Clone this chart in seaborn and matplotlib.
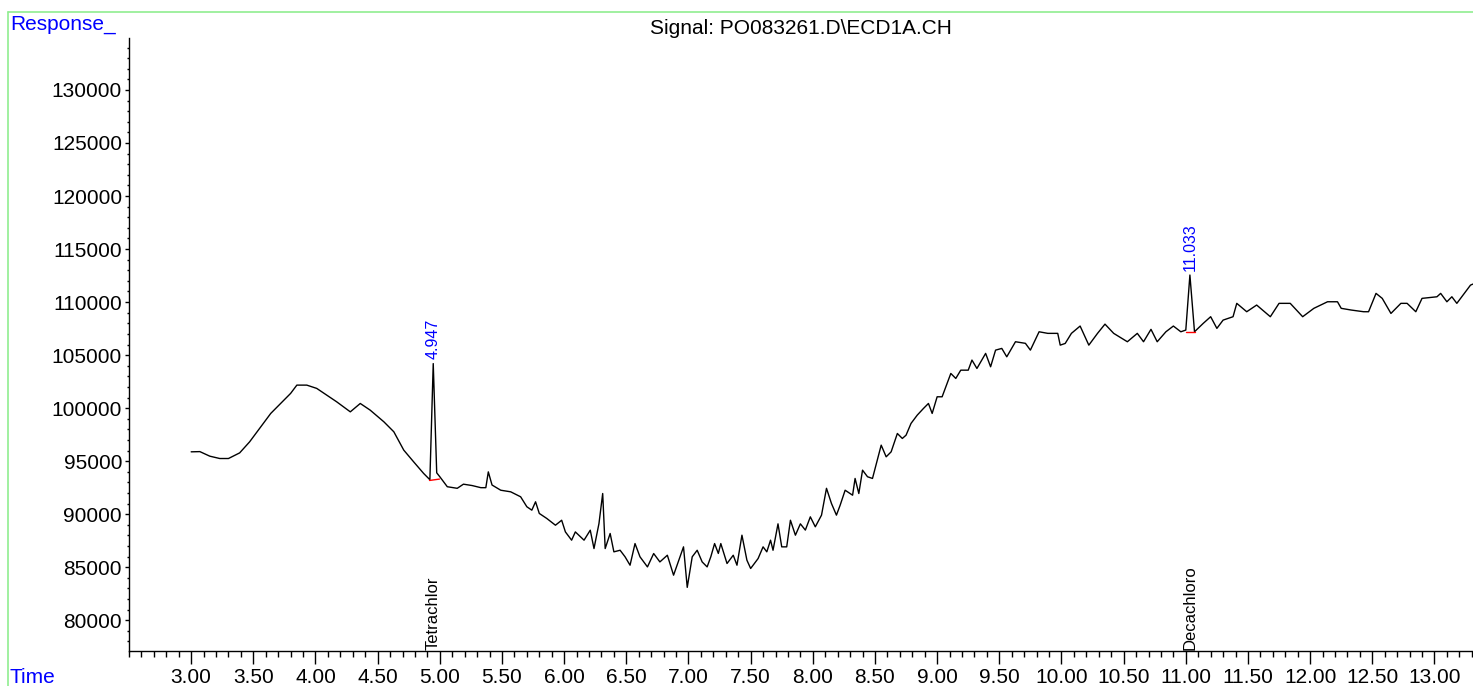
import numpy as np
import pandas as pd
import matplotlib
matplotlib.use("Agg")
import matplotlib.pyplot as plt
import seaborn as sns
from matplotlib.ticker import MultipleLocator, FormatStrFormatter

# Chromatogram trace (time in min, detector response)
time = [
    3.00, 3.07, 3.15, 3.23, 3.30, 3.39, 3.47, 3.56, 3.64, 3.72,
    3.80, 3.85, 3.93, 4.01, 4.09, 4.17, 4.28, 4.36, 4.44, 4.55,
    4.63, 4.71, 4.79, 4.87, 4.92, 4.947, 4.975, 5.00, 5.06, 5.14,
    5.19, 5.26, 5.33, 5.37, 5.39, 5.42, 5.49, 5.57, 5.65, 5.70,
    5.74, 5.77, 5.80, 5.86, 5.93, 5.98, 6.01, 6.06, 6.09, 6.16,
    6.21, 6.24, 6.28, 6.31, 6.33, 6.37, 6.40, 6.45, 6.49, 6.53,
    6.57, 6.61, 6.67, 6.72, 6.77, 6.83, 6.88, 6.96, 6.99, 7.03,
    7.07, 7.11, 7.15, 7.18, 7.21, 7.24, 7.26, 7.31, 7.36, 7.39,
    7.43, 7.47, 7.50, 7.56, 7.60, 7.63, 7.66, 7.68, 7.72, 7.75,
    7.79, 7.82, 7.86, 7.90, 7.94, 7.98, 8.02, 8.07, 8.11, 8.15,
    8.19, 8.22, 8.26, 8.32, 8.34, 8.37, 8.40, 8.44, 8.48, 8.55,
    8.59, 8.63, 8.68, 8.72, 8.75, 8.79, 8.84, 8.89, 8.93, 8.96,
    9.00, 9.04, 9.07, 9.11, 9.15, 9.19, 9.25, 9.28, 9.32, 9.39,
    9.43, 9.47, 9.52, 9.56, 9.63, 9.71, 9.75, 9.82, 9.89, 9.97,
    9.99, 10.03, 10.08, 10.15, 10.22, 10.29, 10.35, 10.42, 10.53, 10.61,
    10.66, 10.72, 10.77, 10.84, 10.90, 10.96, 11.00, 11.033, 11.07, 11.14,
    11.20, 11.25, 11.30, 11.38, 11.41, 11.49, 11.57, 11.68, 11.75, 11.84,
    11.94, 12.03, 12.14, 12.22, 12.25, 12.33, 12.43, 12.47, 12.53, 12.58,
    12.65, 12.73, 12.78, 12.85, 12.90, 13.02, 13.05, 13.10, 13.14, 13.18,
    13.24, 13.29, 13.31,
]
response = [
    95880, 95900, 95470, 95250, 95250, 95780, 96820, 98230, 99500, 100440,
    101390, 102170, 102170, 101860, 101230, 100600, 99650, 100440, 99810, 98710,
    97770, 96040, 94930, 93840, 93250, 104200, 93900, 93530, 92590, 92440,
    92830, 92700, 92500, 92500, 93990, 92750, 92260, 92110, 91640, 90700,
    90380, 91170, 90070, 89600, 88960, 89430, 88330, 87550, 88330, 87550,
    88490, 86760, 89120, 91950, 86760, 88180, 86450, 86600, 85980, 85190,
    87230, 85980, 85030, 86290, 85500, 86130, 84250, 86920, 83100, 85980,
    86600, 85500, 85030, 86000, 87230, 86300, 87230, 85350, 86130, 85190,
    88020, 85660, 84880, 85820, 86920, 86450, 87550, 86600, 89090, 86920,
    86920, 89430, 88020, 89090, 88500, 89750, 88810, 89910, 92440, 91010,
    89910, 90850, 92260, 91790, 93370, 91950, 94150, 93530, 93370, 96510,
    95410, 95880, 97610, 97140, 97450, 98560, 99340, 99970, 100440, 99500,
    101070, 101070, 102010, 103270, 102800, 103580, 103580, 104530, 103740, 105160,
    103900, 105470, 105630, 104840, 106260, 106110, 105470, 107200, 107050, 107050,
    105940, 106100, 107050, 107740, 105940, 107050, 107920, 107050, 106260, 107050,
    106260, 107430, 106260, 107200, 107740, 107200, 107360, 112550, 107200, 107990,
    108620, 107520, 108300, 108620, 109880, 109090, 109720, 108620, 109880, 109880,
    108620, 109410, 110030, 110030, 109410, 109250, 109090, 109090, 110820, 110350,
    108930, 109880, 109880, 109090, 110350, 110500, 110820, 110030, 110500, 109880,
    110820, 111600, 111700,
]

# integrated peaks
peak_rt = [4.947, 11.033]
peak_top = [104200, 112550]
peak_name = ["Tetrachlor", "Decachloro"]
base_start = [4.917, 11.00]
base_end = [4.997, 11.07]
base_start_y = [93180, 107170]
base_end_y = [93310, 107170]

df = pd.DataFrame({"Time": time, "Response": response})

sns.set_style("ticks")
plt.rcParams["font.family"] = ["Liberation Sans", "DejaVu Sans"]

fig = plt.figure(figsize=(14.73, 6.86), dpi=100)
ax = fig.add_axes([129 / 1473, 35 / 686, 1 - 129 / 1473, 613 / 686])

sns.lineplot(
    data=df,
    x="Time",
    y="Response",
    ax=ax,
    color="black",
    linewidth=1.0,
    estimator=None,
    sort=False
)

# baselines under the peaks
for i in range(len(peak_rt)):
    ax.plot(
        [base_start[i], base_end[i]],
        [base_start_y[i], base_end_y[i]],
        color="red",
        linewidth=1.0
    )

# retention time labels + compound names
for i in range(len(peak_rt)):
    ax.annotate(
        f"{peak_rt[i]:.3f}",
        xy=(peak_rt[i], peak_top[i]),
        xytext=(0, 3),
        textcoords="offset points",
        rotation=90,
        ha="center",
        va="bottom",
        color="blue",
        fontsize=11.5
    )
    ax.annotate(
        peak_name[i],
        xy=(peak_rt[i], 77100),
        xytext=(0, 1),
        textcoords="offset points",
        rotation=90,
        ha="center",
        va="bottom",
        color="black",
        fontsize=12
    )

ax.set_xlim(2.50, 13.31)
ax.set_ylim(77100, 134900)

ax.xaxis.set_major_locator(MultipleLocator(0.5))
ax.xaxis.set_minor_locator(MultipleLocator(0.1))
ax.xaxis.set_major_formatter(FormatStrFormatter("%.2f"))
ax.yaxis.set_major_locator(MultipleLocator(5000))
ax.yaxis.set_minor_locator(MultipleLocator(1000))
ax.yaxis.set_major_formatter(FormatStrFormatter("%d"))

ax.tick_params(axis="both", which="both", colors="black", labelcolor="black")
ax.tick_params(axis="x", which="major", length=9, width=1, labelsize=15, pad=3)
ax.tick_params(axis="x", which="minor", length=4.5, width=1)
ax.tick_params(axis="y", which="major", length=3, width=1, labelsize=15, pad=2)
ax.tick_params(axis="y", which="minor", length=1.8, width=1)

# keep the 3.00 .. 13.00 labels only
ax.set_xticks([t / 2 for t in range(6, 27)])
ax.set_yticks(range(80000, 130001, 5000))

ax.set_xlabel("")
ax.set_ylabel("")
sns.despine(ax=ax)
for side in ["left", "bottom"]:
    ax.spines[side].set_linewidth(1.0)
    ax.spines[side].set_color("black")

fig.text(801 / 1473, 1 - 28 / 686, r"Signal: PO083261.D\ECD1A.CH",
         ha="center", va="center", fontsize=15, color="black")
fig.text(10 / 1473, 1 - 24 / 686, "Response_", ha="left", va="center",
         color="blue", fontsize=15)
fig.text(10 / 1473, 1 - 668 / 686, "Time", ha="left", va="top",
         color="blue", fontsize=15)

# green frame around the plot window
frame_x = 8 / 1473
frame_y = 1 - 12 / 686
fig.add_artist(plt.Line2D([frame_x, frame_x], [0, frame_y], color="#90EE90", linewidth=1.2))
fig.add_artist(plt.Line2D([frame_x, 1], [frame_y, frame_y], color="#90EE90", linewidth=1.2))

fig.savefig("out.png", dpi=100)
